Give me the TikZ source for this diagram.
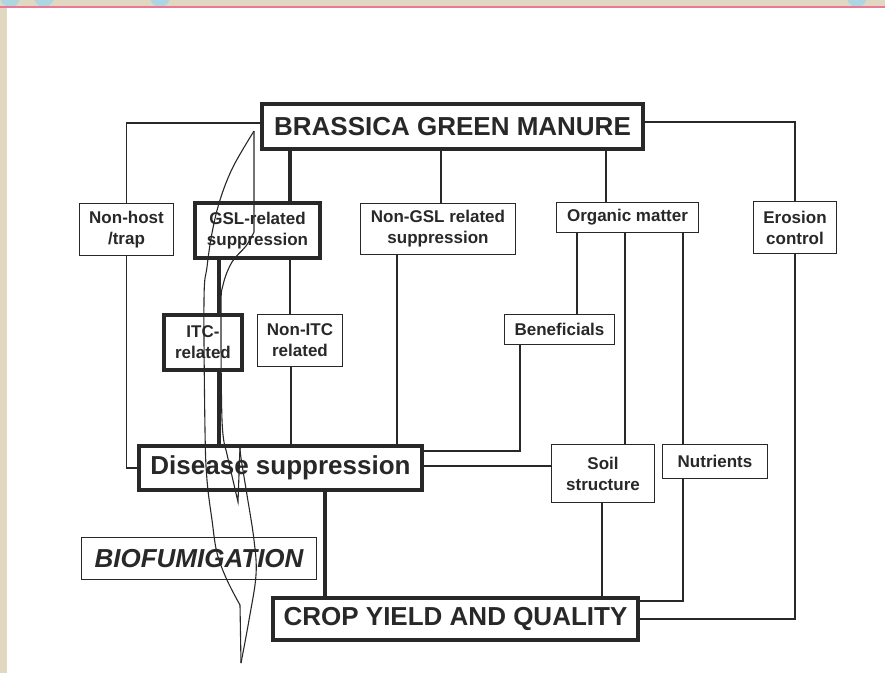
\documentclass[tikz,border=0pt]{standalone}
\usepackage{fontspec}
\setmainfont{Liberation Sans}
\usetikzlibrary{calc,positioning}

\definecolor{parch}{RGB}{225,216,194}
\definecolor{rim}{RGB}{232,122,152}
\definecolor{bead}{RGB}{172,214,226}
\definecolor{ink}{RGB}{40,40,40}

\begin{document}
\begin{tikzpicture}[
  x=1pt, y=-1pt,
  box/.style    ={draw=ink,fill=white,line width=1.6pt,align=center,
                  inner sep=0pt,text=ink,
                  font=\fontsize{17}{21}\selectfont\bfseries},
  keybox/.style ={box,line width=4.5pt},
  bigbox/.style ={box,line width=4.5pt,
                  font=\fontsize{26}{30}\selectfont\bfseries},
  link/.style   ={draw=ink,line width=1.6pt},
  mainlink/.style={draw=ink,line width=4.5pt},
  loopline/.style={draw=ink,line width=1.1pt},
]
\useasboundingbox (0,0) rectangle (885,673);

%% ===== Page rim ==============================================================
\fill[parch] (0,0) rectangle (885,7);
\fill[parch] (0,7) rectangle (7,673);
\begin{scope}
  \clip (0,0) rectangle (885,6);
  \foreach \cx in {10,44,160,857} {\fill[bead] (\cx,-3) circle (10);}
\end{scope}
\draw[rim,line width=2pt] (0,7) -- (885,7);

%% ===== Boxes =================================================================
\node[bigbox,minimum width=381pt,minimum height=45pt] (brassica)
      at (452.5,126.5) {BRASSICA GREEN MANURE};

\node[box,minimum width=94pt,minimum height=52pt]  (nonhost) at (126.5,229.5)
      {Non-host\\/trap};
\node[keybox,minimum width=125pt,minimum height=55pt] (gsl) at (257.5,230.5)
      {GSL-related\\suppression};
\node[box,minimum width=155pt,minimum height=51pt] (nongsl) at (438,229)
      {Non-GSL related\\suppression};
\node[box,minimum width=142pt,minimum height=30pt] (organic) at (627.5,217.5)
      {Organic matter};
\node[box,minimum width=83pt,minimum height=52pt]  (erosion) at (795,227.5)
      {Erosion\\control};

\node[keybox,minimum width=78pt,minimum height=55pt] (itc) at (203,342.5)
      {ITC-\\related};
\node[box,minimum width=85pt,minimum height=52pt]  (nonitc) at (300,340.5)
      {Non-ITC\\related};
\node[box,minimum width=110pt,minimum height=30pt] (benef) at (559.5,329.5)
      {Beneficials};

\node[bigbox,minimum width=283pt,minimum height=44pt] (disease) at (280.5,468)
      {Disease suppression};
\node[box,minimum width=103pt,minimum height=58pt] (soil) at (603,473.5)
      {Soil\\structure};
\node[box,minimum width=105pt,minimum height=34pt] (nutr) at (715,461.5)
      {Nutrients};

\node[box,minimum width=235pt,minimum height=42pt,
      font=\fontsize{26}{30}\selectfont\bfseries\itshape] (biofum) at (199,558.5)
      {BIOFUMIGATION};
\node[bigbox,minimum width=365pt,minimum height=42pt] (crop) at (455.5,619)
      {CROP YIELD AND QUALITY};

%% ===== Straight drops ========================================================
\foreach \a/\d/\b in {brassica/-11.5/nongsl, brassica/153.5/organic,
                      gsl/32.5/nonitc, nonitc/-9/disease, nongsl/-41/disease,
                      organic/-50.5/benef, organic/-2.5/soil,
                      organic/55.5/nutr, soil/-1/crop} {
  \draw[link] ([xshift=\d pt]\a.south) -- ([xshift=\d pt]\a.south |- \b.north);
}
\foreach \a/\d/\b in {brassica/-162.5/gsl, gsl/-38.5/itc,
                      itc/16/disease, disease/44.5/crop} {
  \draw[mainlink] ([xshift=\d pt]\a.south) -- ([xshift=\d pt]\a.south |- \b.north);
}

%% ===== Elbow links ===========================================================
\draw[link] ([yshift=3.5pt]brassica.west) -| (nonhost.north);
\draw[link] (nonhost.south) |- (disease.west);
\draw[link] ([yshift=4.5pt]brassica.east) -| (erosion.north);
\draw[link] ([xshift=-39.5pt]benef.south) |- ([yshift=17pt]disease.east);
\draw[link] ([yshift=2pt]disease.east) -- ([yshift=2pt]disease.east -| soil.west);
\draw[link] ([xshift=-32pt]nutr.south) |- ([yshift=18pt]crop.east);
\draw[link] (erosion.south) |- (crop.east);

%% ===== Hand-drawn loop =======================================================
\draw[loopline] plot[smooth,tension=0.6] coordinates
      {(254,131) (233,167) (220,200) (212,233) (207,267) (204,300)
       (205,430) (207,480) (212,520) (217,553) (227,580) (240,605)}
      -- (241,663);
\draw[loopline] plot[smooth,tension=0.6] coordinates
      {(241,663) (249,620) (256,575) (254,540) (247,495) (241,458) (240,447)};
\draw[loopline] (254,131) -- (254,232)
      plot[smooth,tension=0.6] coordinates
      {(254,232) (246,246) (232,262) (223,285) (221,310) (222,420) (226,450)}
      -- (238,502) -- (240,447);

\end{tikzpicture}
\end{document}
